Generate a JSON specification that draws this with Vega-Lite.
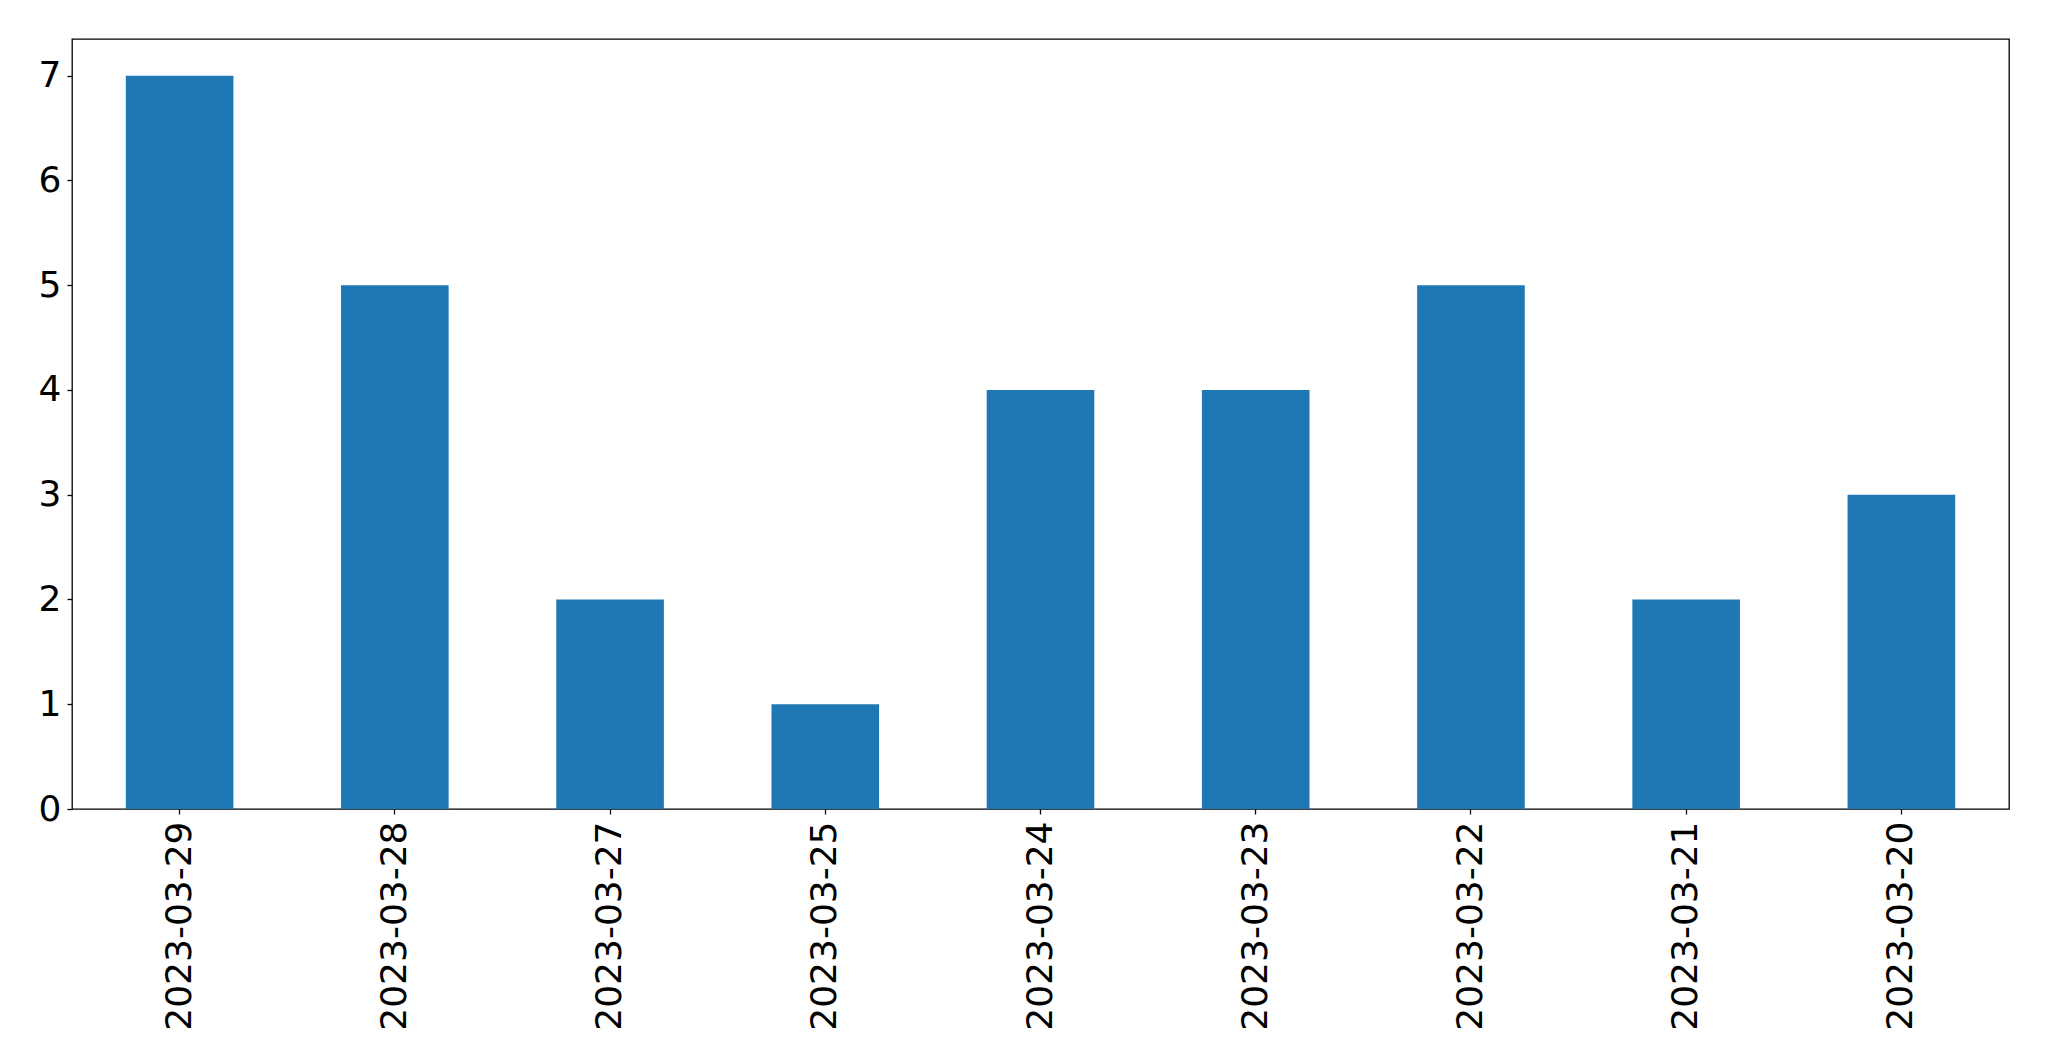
{
  "$schema": "https://vega.github.io/schema/vega-lite/v6.json",
  "autosize": {"type": "none"},
  "padding": {"left": 72, "top": 39, "right": 40, "bottom": 252},
  "width": 1937,
  "height": 770,
  "background": "white",
  "data": {
    "values": [
      {"date": "2023-03-29", "count": 7},
      {"date": "2023-03-28", "count": 5},
      {"date": "2023-03-27", "count": 2},
      {"date": "2023-03-25", "count": 1},
      {"date": "2023-03-24", "count": 4},
      {"date": "2023-03-23", "count": 4},
      {"date": "2023-03-22", "count": 5},
      {"date": "2023-03-21", "count": 2},
      {"date": "2023-03-20", "count": 3}
    ]
  },
  "config": {
    "view": {"stroke": "black", "strokeWidth": 1.3},
    "axis": {
      "labelFont": "DejaVu Sans",
      "labelFontSize": 36,
      "labelColor": "black",
      "labelLimit": 0,
      "tickColor": "black",
      "tickSize": 5,
      "tickWidth": 1.3,
      "domain": false,
      "grid": false,
      "title": null
    }
  },
  "mark": {"type": "bar", "color": "#1f77b4"},
  "encoding": {
    "x": {
      "field": "date",
      "type": "nominal",
      "sort": null,
      "scale": {"paddingInner": 0.5, "paddingOuter": 0.25},
      "axis": {"labelAngle": -90, "labelPadding": 7}
    },
    "y": {
      "field": "count",
      "type": "quantitative",
      "scale": {"domain": [0, 7.35], "nice": false, "zero": true},
      "axis": {"values": [0, 1, 2, 3, 4, 5, 6, 7], "labelPadding": 6}
    }
  }
}
